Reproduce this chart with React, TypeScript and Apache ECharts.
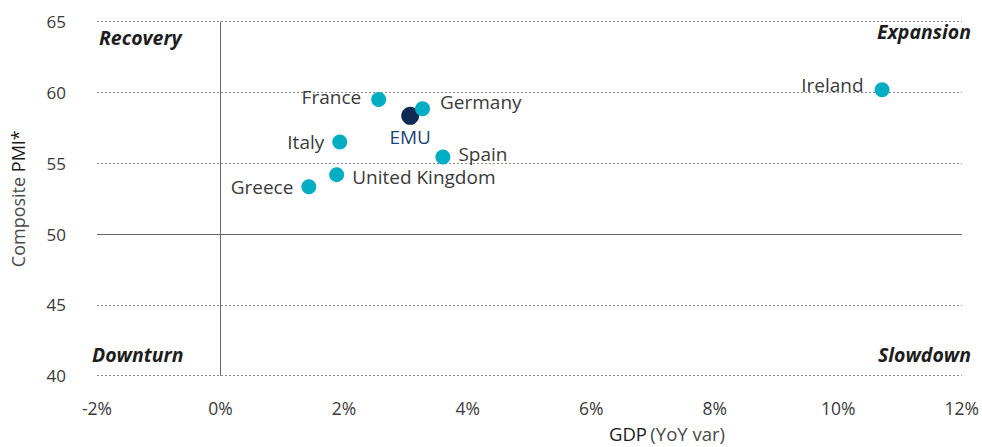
import React, { useEffect, useRef } from "react";
import * as echarts from "echarts";

const countries = ["France", "Germany", "Italy", "Spain", "United Kingdom", "Greece", "Ireland"];
const gdp = [2.56, 3.27, 1.93, 3.6, 1.88, 1.43, 10.71];
const pmi = [59.5, 58.85, 56.5, 55.45, 54.2, 53.35, 60.2];
const labelPos = ["left", "right", "left", "right", "right", "left", "left"];
const emuName = "EMU";
const emuGdp = 3.07;
const emuPmi = 58.35;
const xTicks = [-2, 0, 2, 4, 6, 8, 10, 12];
const yTicks = [40, 45, 50, 55, 60, 65];
const quadrants = ["Recovery", "Expansion", "Downturn", "Slowdown"];

const FONT = "'Open Sans', sans-serif";
const CYAN = "#00AEC3";
const NAVY = "#0D2B55";
const TXT = "#3a3a3a";

const labelOffsets: Record<string, number[]> = {
  France: [-2, -3],
  Germany: [2, -7],
  Ireland: [-3, -5],
  Spain: [0, -3],
  "United Kingdom": [0, 2],
  Greece: [0, 0],
  Italy: [0, 0],
};

export default function App() {
  const ref = useRef<HTMLDivElement>(null);
  useEffect(() => {
    if (!ref.current) return;
    const chart = echarts.init(ref.current, undefined, { renderer: "svg" });
    const countryData = countries.map((c, i) => ({
      name: c,
      value: [gdp[i], pmi[i]],
      label: { position: labelPos[i], offset: labelOffsets[c] || [0, 0] },
    }));
    const qFont = `italic bold 19.5px ${FONT}`;
    chart.setOption({
      animation: false,
      textStyle: { fontFamily: FONT },
      grid: { left: 97, right: 19, top: 21.7, bottom: 71.3, containLabel: false },
      xAxis: {
        type: "value",
        min: xTicks[0],
        max: xTicks[xTicks.length - 1],
        interval: 2,
        axisLine: { show: false },
        axisTick: { show: false },
        splitLine: { show: false },
        axisLabel: {
          formatter: (v: number) => `${v}%`,
          color: TXT,
          fontSize: 17.5,
          margin: 23,
          fontFamily: FONT,
        },
      },
      yAxis: {
        type: "value",
        min: yTicks[0],
        max: yTicks[yTicks.length - 1],
        interval: 5,
        axisLine: { show: false },
        axisTick: { show: false },
        splitLine: { show: true, lineStyle: { type: [2, 2], color: "#8a8a8a", width: 1 } },
        axisLabel: { color: TXT, fontSize: 17, margin: 31, fontFamily: FONT },
        name: "{l|Composite }{b|PMI*}",
        nameLocation: "middle",
        nameGap: 70,
        nameTextStyle: {
          color: TXT,
          fontSize: 18,
          fontFamily: FONT,
          rich: {
            l: { fontSize: 18, fontFamily: FONT, color: "#4a4a4a", fontWeight: "normal" },
            b: { fontSize: 18, fontFamily: FONT, color: "#1a1a1a", fontWeight: "normal" },
          },
        },
      },
      graphic: [
        { type: "text", left: 99, top: 27, style: { text: quadrants[0], font: qFont, fill: "#1e1e1e" } },
        { type: "text", right: 11, top: 21, style: { text: quadrants[1], font: qFont, fill: "#1e1e1e" } },
        { type: "text", left: 92, top: 344, style: { text: quadrants[2], font: qFont, fill: "#1e1e1e" } },
        { type: "text", right: 11, top: 344, style: { text: quadrants[3], font: qFont, fill: "#1e1e1e" } },
        {
          type: "text",
          left: 609,
          top: 424,
          style: {
            text: "{b|GDP} {l|(YoY var)}",
            rich: {
              b: { font: `18.5px ${FONT}`, fill: "#1a1a1a" },
              l: { font: `18.5px ${FONT}`, fill: "#4a4a4a" },
            },
          },
        },
      ],
      series: [
        {
          type: "scatter",
          symbolSize: 15,
          itemStyle: { color: CYAN, opacity: 1 },
          data: countryData,
          label: {
            show: true,
            formatter: "{b}",
            color: TXT,
            fontSize: 19,
            fontFamily: FONT,
            distance: 8,
          },
          markLine: {
            silent: true,
            symbol: "none",
            label: { show: false },
            lineStyle: { color: "#666", type: "solid", width: 1 },
            data: [{ yAxis: 50 }, { xAxis: 0 }],
          },
          z: 3,
        },
        {
          type: "scatter",
          symbolSize: 18,
          itemStyle: { color: NAVY, opacity: 1 },
          data: [{ name: emuName, value: [emuGdp, emuPmi] }],
          label: {
            show: true,
            formatter: "{b}",
            position: "bottom",
            color: "#1f4276",
            fontSize: 19,
            fontFamily: FONT,
            distance: 3,
          },
          z: 2,
        },
      ],
    });
    return () => chart.dispose();
  }, []);
  return <div ref={ref} style={{ width: 982, height: 447, position: "absolute", left: 0, top: 0 }} />;
}
